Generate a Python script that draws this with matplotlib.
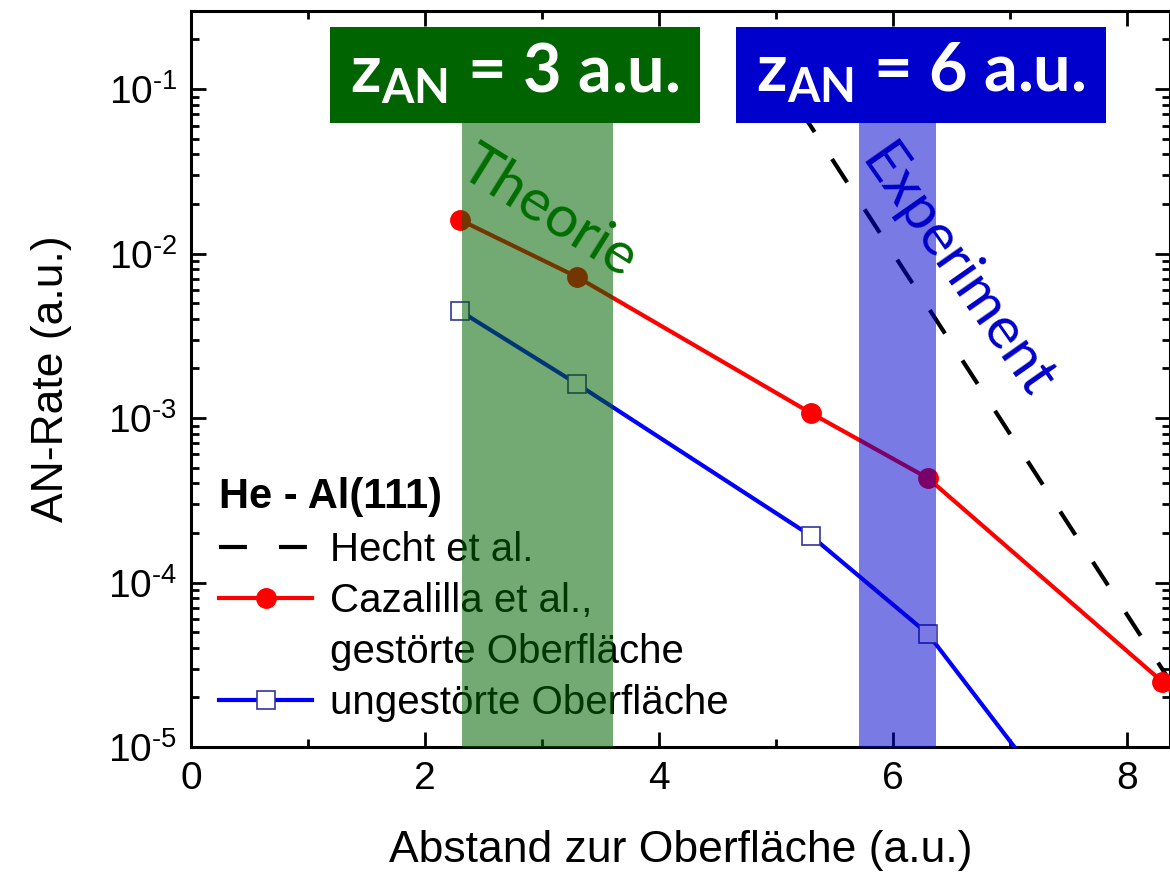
import numpy as np
import matplotlib
matplotlib.use("Agg")
import matplotlib.pyplot as plt
from matplotlib.lines import Line2D
from matplotlib.patches import Rectangle
from matplotlib.ticker import LogLocator, MultipleLocator, NullFormatter, FuncFormatter

plt.rcParams['font.family'] = ['Liberation Sans', 'DejaVu Sans']
plt.rcParams['mathtext.fontset'] = 'custom'
plt.rcParams['mathtext.rm'] = 'Liberation Sans'
plt.rcParams['mathtext.bf'] = 'Lato:bold'
plt.rcParams['axes.unicode_minus'] = False

## data
hecht_x = [5.2, 8.5]
hecht_y = [7.6e-2, 1.8e-5]

gestoert_x = [2.3, 3.3, 5.3, 6.3, 8.3, 9.3]
gestoert_y = [1.6e-2, 7.2e-3, 1.07e-3, 4.3e-4, 2.5e-5, 4.5e-6]

ungestoert_x = [2.3, 3.3, 5.3, 6.3, 8.3]
ungestoert_y = [4.47e-3, 1.61e-3, 1.92e-4, 4.86e-5, 6.7e-7]

theorie_band = (2.32, 3.61)
experiment_band = (5.71, 6.37)

xlabel = "Abstand zur Oberfläche (a.u.)"
ylabel = "AN-Rate (a.u.)"


def decade_label(v, pos):
    '''10 with a short hyphen exponent, like the original'''
    n = int(round(np.log10(v)))
    return "10$^{\\mathdefault{\u2010%d}}$" % abs(n) if n < 0 else "10$^{%d}$" % n


fig = plt.figure(figsize=(11.7, 8.77), dpi=100)
ax = fig.add_axes([191/1170, 1-747/877, 1-191/1170, (747-11)/877])

ax.set_yscale('log')
ax.set_xlim(0, (1170-191)/117)
ax.set_ylim(1e-5, 0.298)

ax.plot(hecht_x, hecht_y, color='black', lw=3, dashes=(6.7, 7.7), zorder=3)
ax.plot(gestoert_x, gestoert_y, color='#ff0000', lw=3, marker='o', ms=14,
        mfc='#ff0000', mec='#ff0000', zorder=4)
ax.plot(ungestoert_x, ungestoert_y, color='#0000ff', lw=3, marker='s', ms=13,
        mfc='white', mec='#333399', mew=1.2, zorder=4)

# shaded bands (drawn over lines/legend like in the slide)
ax.axvspan(*theorie_band, ymin=0, ymax=0.85, color='#006400', alpha=0.55, lw=0, zorder=6)
ax.axvspan(*experiment_band, ymin=0, ymax=0.85, color='#0000cc', alpha=0.52, lw=0, zorder=6)

ax.xaxis.set_major_locator(MultipleLocator(2))
ax.xaxis.set_minor_locator(MultipleLocator(1))
ax.yaxis.set_major_locator(LogLocator(base=10, numticks=10))
ax.yaxis.set_major_formatter(FuncFormatter(decade_label))
ax.yaxis.set_minor_locator(LogLocator(base=10, subs=np.arange(2, 10), numticks=20))
ax.yaxis.set_minor_formatter(NullFormatter())
ax.tick_params(which='both', direction='in', top=True, right=True, width=2,
               labelsize=28)
ax.tick_params(which='major', length=11, pad=10)
ax.tick_params(which='minor', length=6)
for s in ax.spines.values():
    s.set_linewidth(2.2)

ax.set_xlabel(xlabel, fontsize=32, labelpad=24)
ax.set_ylabel(ylabel, fontsize=32, labelpad=26)

# legend
handles = [
    Line2D([], [], color='black', lw=3, dashes=(6.7, 7.7)),
    Line2D([], [], color='#ff0000', lw=3, marker='o', ms=14),
    Line2D([], [], color='none'),
    Line2D([], [], color='#0000ff', lw=3, marker='s', ms=13, mfc='white',
           mec='#333399', mew=1.2),
]
labels = ["Hecht et al.", "Cazalilla et al.,", "gestörte Oberfläche",
          "ungestörte Oberfläche"]
leg = ax.legend(handles, labels, title="He - Al(111)", loc='lower left',
                bbox_to_anchor=(0.0, -0.005), frameon=False, fontsize=29,
                handlelength=2.3, handletextpad=0.45, labelspacing=0.33,
                borderaxespad=0.3, alignment='left')
leg.get_title().set_fontsize(30)
leg.get_title().set_fontweight('bold')
leg.set_zorder(5)

# title boxes
for x0, color, txt in [(330, '#006400', r"z$_{\mathbf{AN}}$ = 3 a.u."),
                       (736, '#0000cc', r"z$_{\mathbf{AN}}$ = 6 a.u.")]:
    fig.add_artist(Rectangle((x0/1170, 1-123/877), 370/1170, 96/877,
                             transform=fig.transFigure, color=color, lw=0,
                             zorder=8))
    fig.text((x0+185)/1170, 1-73/877, txt, color='white', fontsize=48,
             family='Lato', fontweight='bold', ha='center', va='center',
             zorder=9)

ax.text(548/1170, 1-212/877, "Theorie", transform=fig.transFigure,
        color='#006e00', fontsize=42, family='Lato', rotation=-32,
        rotation_mode='anchor', ha='center', va='center', zorder=7)
ax.text(957/1170, 1-272/877, "Experiment", transform=fig.transFigure,
        color='#0000cc', fontsize=42, family='Lato', rotation=-55,
        rotation_mode='anchor', ha='center', va='center', zorder=7)

fig.savefig("out.png", dpi=100)
